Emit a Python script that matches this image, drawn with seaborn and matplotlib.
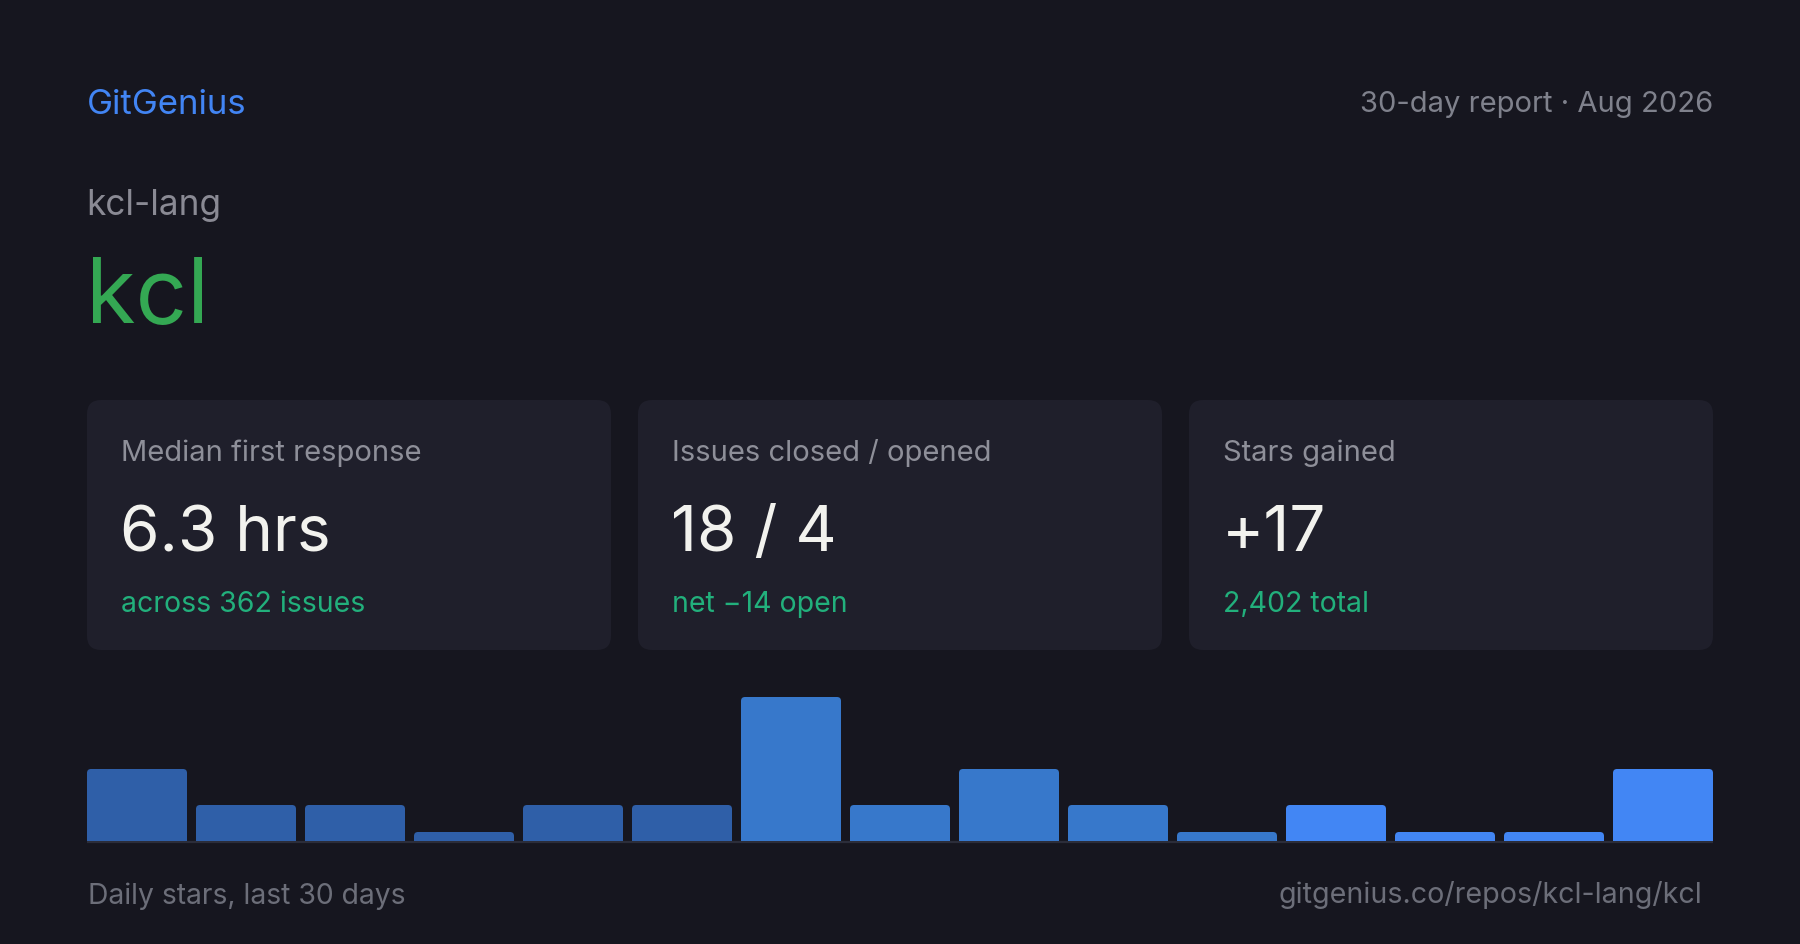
import numpy as np
import pandas as pd
import matplotlib
matplotlib.use("Agg")
import matplotlib.pyplot as plt
from matplotlib.patches import FancyBboxPatch
import seaborn as sns

# Dữ liệu
brand = "GitGenius"
report_label = "30-day report · Aug 2026"
owner = "kcl-lang"
repo = "kcl"
card_titles = ["Median first response", "Issues closed / opened", "Stars gained"]
card_values = ["6.3 hrs", "18 / 4", "+17"]
card_notes = ["across 362 issues", "net \u221214 open", "2,402 total"]
bucket = list(range(15))
stars = [2, 1, 1, 0, 1, 1, 4, 1, 2, 1, 0, 1, 0, 0, 2]
footer_left = "Daily stars, last 30 days"
footer_right = "gitgenius.co/repos/kcl-lang/kcl"

# Màu
BG = "#16161f"
CARD = "#1f1f2b"
bar_colors = ["#2f5fa8"] * 6 + ["#3778cb"] * 5 + ["#4286f4"] * 4

sns.set_theme(style="white")
plt.rcParams["font.family"] = ["Inter", "DejaVu Sans"]

W, H = 1800, 945
fig = plt.figure(figsize=(W / 100, H / 100), dpi=100, facecolor=BG)

# Lớp nền dùng toạ độ pixel
bg = fig.add_axes([0, 0, 1, 1])
bg.set_xlim(0, W)
bg.set_ylim(H, 0)
bg.axis("off")
bg.set_facecolor(BG)

bg.text(87, 114, brand, color="#4285f4", fontsize=25, va="baseline")
bg.text(1713, 112, report_label, color="#7f818c", fontsize=21, va="baseline", ha="right")
bg.text(86, 215, owner, color="#8a8a94", fontsize=25.3, va="baseline")
bg.text(86, 323, repo, color="#34a853", fontsize=65, va="baseline")

card_x = [87, 638, 1189]
card_w = 524
for cx, t, v, n in zip(card_x, card_titles, card_values, card_notes):
    bg.add_patch(FancyBboxPatch((cx, 401), card_w, 250,
                                boxstyle="round,pad=0,rounding_size=14",
                                fc=CARD, ec="none"))
    bg.text(cx + 34, 461, t, color="#8e8f99", fontsize=21, va="baseline")
    bg.text(cx + 33, 551, v, color="#f2f2ee", fontsize=46, va="baseline")
    bg.text(cx + 34, 612, n, color="#22b07c", fontsize=20.5, va="baseline")

bg.text(88, 904, footer_left, color="#6c6e79", fontsize=20.4, va="baseline")
bg.text(1702, 903, footer_right, color="#6c6e79", fontsize=20.6, va="baseline", ha="right")

# Biểu đồ cột
df = pd.DataFrame({"bucket": bucket, "stars": stars})
df["shown"] = np.maximum(df["stars"], 0.25)
bar_w = 100 / 109
ax = fig.add_axes([87 / W, (H - 842) / H, 1626 / W, 144 / H])
ax.set_facecolor("none")
sns.barplot(data=df, x="bucket", y="shown", hue="bucket", palette=bar_colors,
            width=bar_w, legend=False, ax=ax, saturation=1)
ax.set_xlim(-bar_w / 2, len(bucket) - 1 + bar_w / 2)
ax.set_ylim(0, 4)
ax.axis("off")

# bo góc trên của cột
r = 4 / 109
aspect = (4 / 144) * 4 / r
for p in list(ax.patches):
    x0, w, h = p.get_x(), p.get_width(), p.get_height()
    ax.add_patch(FancyBboxPatch((x0, -0.3), w, h + 0.3,
                                boxstyle=f"round,pad=0,rounding_size={r}",
                                mutation_aspect=aspect, fc=p.get_facecolor(),
                                ec="none", clip_on=True))
    p.set_visible(False)
bg.plot([87, 1713], [843, 843], color="#2b2d3a", lw=1.6, solid_capstyle="butt")

fig.savefig("out.png", dpi=100, facecolor=BG)
